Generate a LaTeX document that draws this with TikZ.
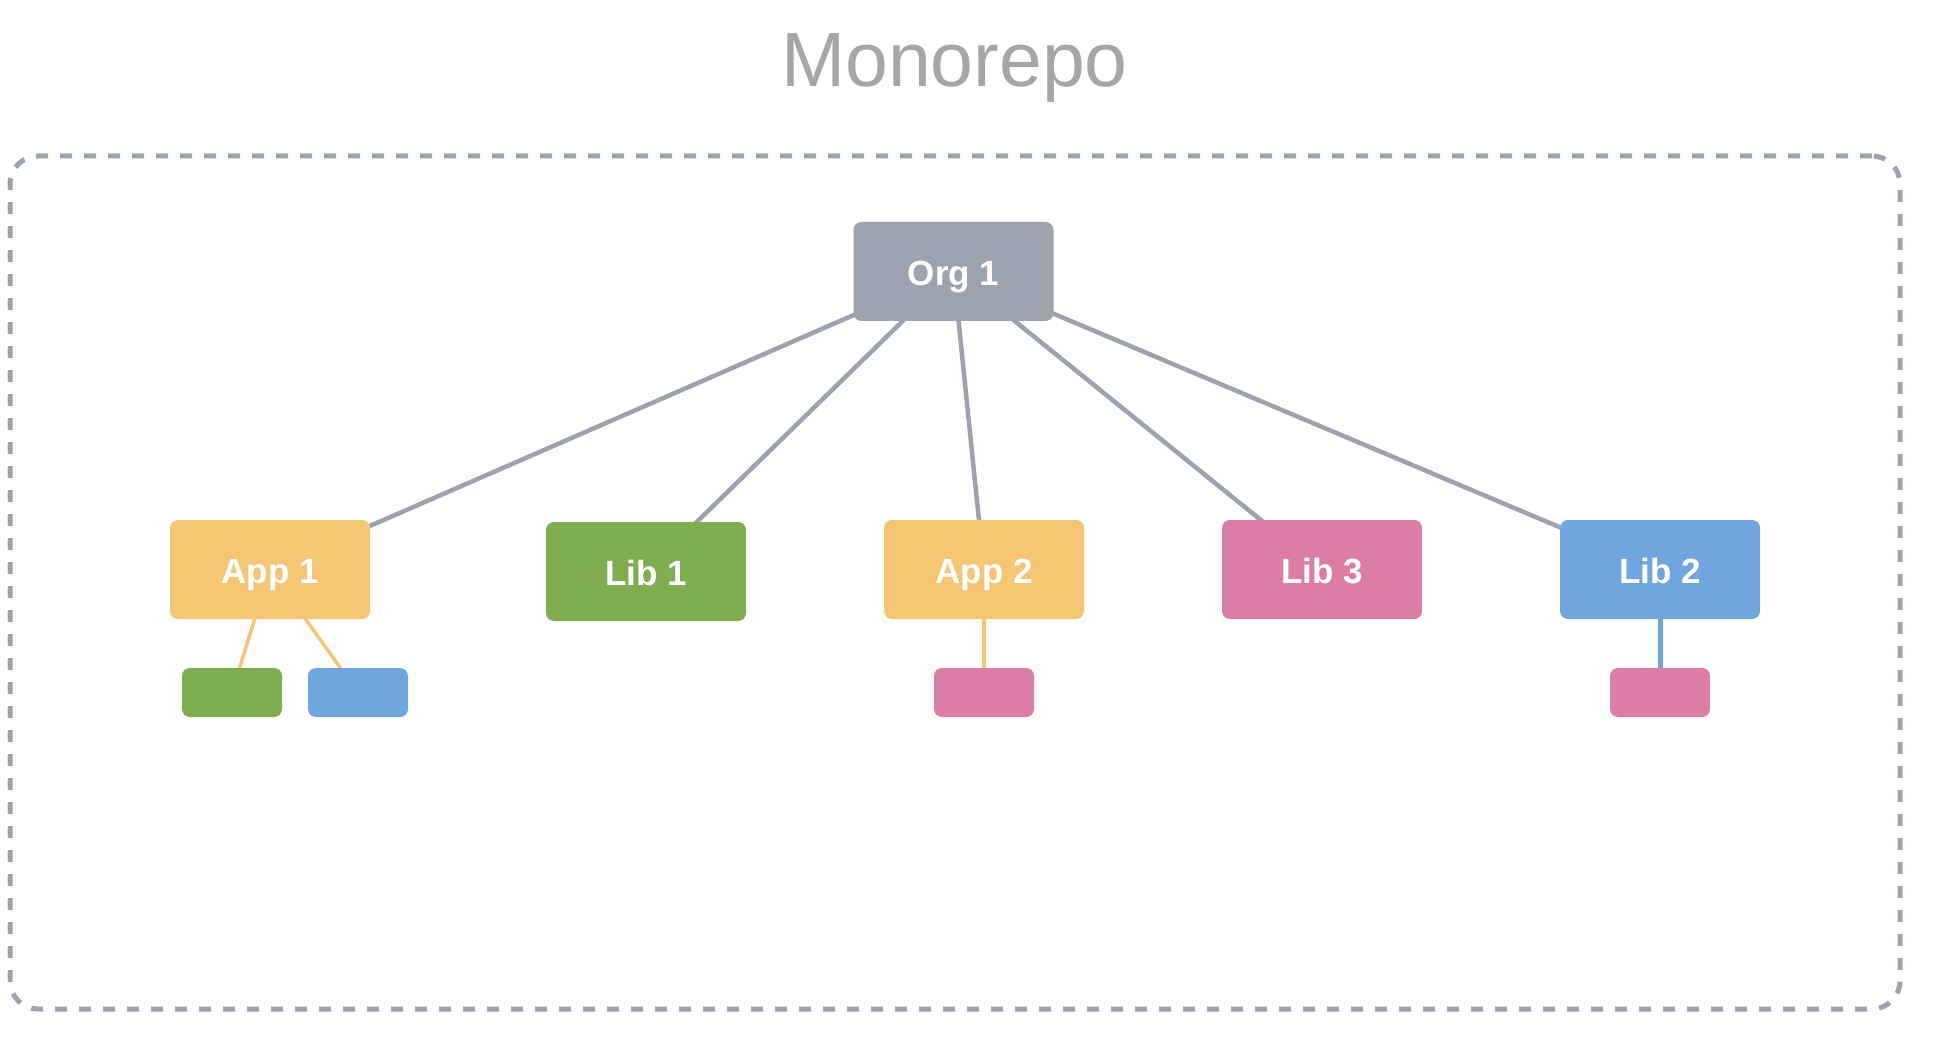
\documentclass[tikz,border=0pt]{standalone}
\usepackage{fontspec}
\setmainfont{Liberation Sans}
\usetikzlibrary{backgrounds}
\definecolor{cgray}{HTML}{9CA3AF}
\definecolor{cyellow}{HTML}{F4C674}
\definecolor{cgreen}{HTML}{7FAD4F}
\definecolor{cblue}{HTML}{71A5E0}
\definecolor{cpink}{HTML}{DB7DA5}
\definecolor{ctitle}{HTML}{A6A6A6}
\tikzset{
  x=1pt, y=-1pt,
  bigbox/.style={rectangle, rounded corners=8pt, inner sep=0pt,
    minimum width=200pt, minimum height=99pt, text=white,
    text height=28pt, text depth=0pt,
    font=\fontsize{35}{40}\selectfont\bfseries},
  smallbox/.style={rectangle, rounded corners=8pt, inner sep=0pt,
    minimum width=100pt, minimum height=49pt},
  link/.style={line width=4.5pt, cgray},
  sublink/.style={line width=3.5pt},
}
\begin{document}
\begin{tikzpicture}
\useasboundingbox (0,0) rectangle (1946,1064);
\node[anchor=base, text=ctitle, font=\fontsize{77}{85}\selectfont] (title) at (954.5,87) {Monorepo};
\node[draw=cgray, line width=5pt, dash pattern=on 12pt off 12pt, rounded corners=28pt,
  minimum width=1890pt, minimum height=853pt, inner sep=0pt] (frame) at (955,582.5) {};
\node[bigbox, fill=cgray] (org) at (953.5,271.5) {Org 1};
\node[bigbox, fill=cyellow] (app1) at (270,569.5) {App 1};
\node[bigbox, fill=cgreen] (lib1) at (646,571.5) {Lib 1};
\node[bigbox, fill=cyellow] (app2) at (984,569.5) {App 2};
\node[bigbox, fill=cpink] (lib3) at (1322,569.5) {Lib 3};
\node[bigbox, fill=cblue] (lib2) at (1660,569.5) {Lib 2};
\node[smallbox, fill=cgreen] (s1) at (232,692.5) {};
\node[smallbox, fill=cblue] (s2) at (358,692.5) {};
\node[smallbox, fill=cpink] (s3) at (984,692.5) {};
\node[smallbox, fill=cpink] (s4) at (1660,692.5) {};
\begin{scope}[on background layer]
\draw[link] (org.center) -- (app1.center);
\draw[link] (org.center) -- (lib1.center);
\draw[link] (org.center) -- (app2.center);
\draw[link] (org.center) -- (lib3.center);
\draw[link] (org.center) -- (lib2.center);
\draw[sublink, cyellow] (app1.center) -- (s1.center);
\draw[sublink, cyellow] (app1.center) -- (s2.center);
\draw[sublink, cyellow] (app2.center) -- (s3.center);
\draw[line width=5pt, cblue] (lib2.center) -- (s4.center);
\end{scope}
\end{tikzpicture}
\end{document}
